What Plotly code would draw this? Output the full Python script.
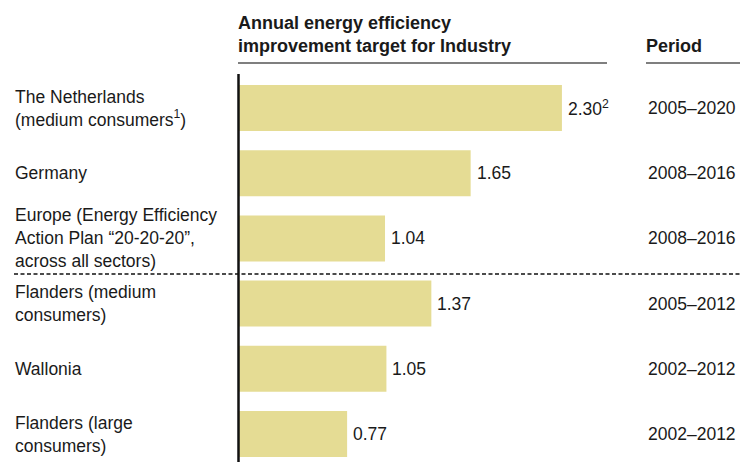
import plotly.graph_objects as go

# Chart data
regions = [
    "The Netherlands<br>(medium consumers<sup>1</sup>)",
    "Germany",
    "Europe (Energy Efficiency<br>Action Plan “20-20-20”,<br>across all sectors)",
    "Flanders (medium<br>consumers)",
    "Wallonia",
    "Flanders (large<br>consumers)",
]
targets = [2.30, 1.65, 1.04, 1.37, 1.05, 0.77]
target_notes = ["2", "", "", "", "", ""]
periods = ["2005–2020", "2008–2016", "2008–2016", "2005–2012", "2002–2012", "2002–2012"]

header_value = "Annual energy efficiency<br>improvement target for Industry"
header_period = "Period"

W, H = 740, 462
FONT = "Arial, Liberation Sans, sans-serif"
TEXT = "#1a1a1a"
BAR = "#E5DC94"
FS = 17.5

# layout geometry in pixels
plot_left, plot_top = 239, 74
px_per_unit = 140.4
row_step = 65.2

def px_x(p):
    return p / W

def px_y(p):
    return 1 - p / H

pos = list(range(len(regions)))

fig = go.Figure(
    go.Bar(
        x=targets,
        y=pos,
        orientation="h",
        marker=dict(color=BAR, line=dict(width=0)),
        width=46 / row_step,
        hoverinfo="skip",
    )
)

x_max = (W - plot_left) / px_per_unit
y_top = -34 / row_step
y_bot = (H - plot_top - 34) / row_step

fig.update_layout(
    width=W,
    height=H,
    margin=dict(l=0, r=0, t=0, b=0),
    paper_bgcolor="white",
    plot_bgcolor="white",
    showlegend=False,
    font=dict(family=FONT, size=FS, color=TEXT),
    xaxis=dict(domain=[px_x(plot_left), 1], range=[0, x_max], visible=False, fixedrange=True),
    yaxis=dict(domain=[0, px_y(plot_top)], range=[y_bot, y_top], visible=False, fixedrange=True),
)

annotations = []
for i, (lab, v, note, per) in enumerate(zip(regions, targets, target_notes, periods)):
    annotations.append(dict(
        x=px_x(13), xref="paper", y=i, yref="y",
        text=lab, showarrow=False, xanchor="left", yanchor="middle", align="left",
        font=dict(size=FS, color=TEXT),
    ))
    vt = f"{v:.2f}" + (f"<sup>{note}</sup>" if note else "")
    annotations.append(dict(
        x=v, xref="x", y=i, yref="y", xshift=4,
        text=vt, showarrow=False, xanchor="left", yanchor="middle",
        font=dict(size=FS, color=TEXT),
    ))
    annotations.append(dict(
        x=px_x(646), xref="paper", y=i, yref="y",
        text=per, showarrow=False, xanchor="left", yanchor="middle",
        font=dict(size=FS, color=TEXT),
    ))

annotations.append(dict(
    x=px_x(236), xref="paper", y=px_y(34), yref="paper",
    text=f"<b>{header_value}</b>", showarrow=False, xanchor="left", yanchor="middle",
    align="left", font=dict(size=18, color=TEXT),
))
annotations.append(dict(
    x=px_x(644), xref="paper", y=px_y(46), yref="paper",
    text=f"<b>{header_period}</b>", showarrow=False, xanchor="left", yanchor="middle",
    font=dict(size=18, color=TEXT),
))
fig.update_layout(annotations=annotations)

shapes = [
    # header rules
    dict(type="line", xref="paper", yref="paper", x0=px_x(238), x1=px_x(607),
         y0=px_y(63), y1=px_y(63), line=dict(color="#555555", width=1.5)),
    dict(type="line", xref="paper", yref="paper", x0=px_x(646), x1=1,
         y0=px_y(63), y1=px_y(63), line=dict(color="#555555", width=1.5)),
    # baseline axis
    dict(type="line", xref="paper", yref="paper", x0=px_x(238.5), x1=px_x(238.5),
         y0=px_y(74), y1=0, line=dict(color="#111111", width=2.5)),
    # separator between national targets and Belgian regions
    dict(type="line", xref="paper", yref="paper", x0=px_x(14), x1=1,
         y0=px_y(274), y1=px_y(274), line=dict(color="#111111", width=1.5, dash="4px,2.5px")),
]
fig.update_layout(shapes=shapes)

fig.write_html("out.html")
